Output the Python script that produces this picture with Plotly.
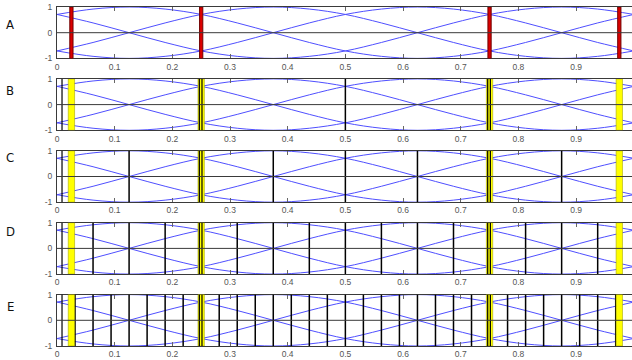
import plotly.graph_objects as go
from plotly.subplots import make_subplots

# ---- data -------------------------------------------------------------
panel_labels = ["A", "B", "C", "D", "E"]
label_y_px = [25, 90, 158, 231, 306]          # vertical centre of each panel letter

# four phase-shifted waves, sampled every 1/16
x_knots = [0, 0.0625, 0.125, 0.1875, 0.25, 0.3125, 0.375, 0.4375, 0.5,
           0.5625, 0.625, 0.6875, 0.75, 0.8125, 0.875, 0.9375, 1.0]
wave_1 = [-0.71, -0.38, 0, 0.38, 0.71, 0.92, 1, 0.92, 0.71,
          0.38, 0, -0.38, -0.71, -0.92, -1, -0.92, -0.71]
wave_2 = [0.71, 0.38, 0, -0.38, -0.71, -0.92, -1, -0.92, -0.71,
          -0.38, 0, 0.38, 0.71, 0.92, 1, 0.92, 0.71]
wave_3 = [0.71, 0.92, 1, 0.92, 0.71, 0.38, 0, -0.38, -0.71,
          -0.92, -1, -0.92, -0.71, -0.38, 0, 0.38, 0.71]
wave_4 = [-0.71, -0.92, -1, -0.92, -0.71, -0.38, 0, 0.38, 0.71,
          0.92, 1, 0.92, 0.71, 0.38, 0, -0.38, -0.71]
waves = [wave_1, wave_2, wave_3, wave_4]

# sample positions (red in A, yellow in B..E)
sample_pos = [0.025, 0.25, 0.75, 0.975]
# double markers inside the yellow bars at 1/4 and 3/4
pair_lines = [0.2468, 0.2514, 0.7468, 0.7514]
edge_line = 0.0087

# dyadic grid lines for each refinement level
grid_levels = {
    "B": [0.5],
    "C": [0.125, 0.375, 0.5, 0.625, 0.875],
    "D": [0.0625, 0.125, 0.1875, 0.3125, 0.375, 0.4375, 0.5, 0.5625,
          0.625, 0.6875, 0.8125, 0.875, 0.9375],
    "E": [0.03125, 0.0625, 0.09375, 0.125, 0.15625, 0.1875, 0.21875,
          0.28125, 0.3125, 0.34375, 0.375, 0.40625, 0.4375, 0.46875, 0.5,
          0.53125, 0.5625, 0.59375, 0.625, 0.65625, 0.6875, 0.71875,
          0.78125, 0.8125, 0.84375, 0.875, 0.90625, 0.9375, 0.96875],
}

x_tick_vals = [0, 0.1, 0.2, 0.3, 0.4, 0.5, 0.6, 0.7, 0.8, 0.9]
x_tick_text = ["0", "0.1", "0.2", "0.3", "0.4", "0.5", "0.6", "0.7", "0.8", "0.9"]
y_tick_vals = [-1, 0, 1]
y_tick_text = ["-1", "0", "1"]

# ---- layout geometry ----------------------------------------------------
W, H = 632, 360
M_L, M_R, M_T, M_B = 57, 0, 7, 14
plot_h = H - M_T - M_B
x_max = 0.997

BLUE = "#4f4fff"
FRAME = "#3a3a3a"
TICK_FONT = dict(family="Liberation Sans, Arial, sans-serif", size=8.5, color="#555555")

fig = make_subplots(rows=5, cols=1, vertical_spacing=20.5 / plot_h)

for r in range(1, 6):
    for w in waves:
        fig.add_trace(
            go.Scatter(x=x_knots, y=w, mode="lines",
                       line=dict(color=BLUE, width=1, shape="spline"),
                       hoverinfo="skip", showlegend=False),
            row=r, col=1)

shapes = []
for r, name in enumerate(panel_labels, start=1):
    xr = "x" if r == 1 else f"x{r}"
    yr = "y" if r == 1 else f"y{r}"

    def vline(x, color="black", width=1.5):
        shapes.append(dict(type="line", xref=xr, yref=yr, x0=x, x1=x, y0=-1, y1=1,
                           line=dict(color=color, width=width), layer="above"))

    def bar(x, half, fill, edge, ew):
        shapes.append(dict(type="rect", xref=xr, yref=yr, x0=x - half, x1=x + half,
                           y0=-1, y1=1, fillcolor=fill,
                           line=dict(color=edge, width=ew), layer="above"))

    if name == "A":
        for p in sample_pos:
            bar(p, 0.0028, "#dd0000", "#700000", 1)
    else:
        vline(edge_line, width=1.2)
        for g in grid_levels[name]:
            vline(g, width=1.5)
        for p in sample_pos:
            bar(p, 0.0055, "#ffff00", "#a8a800", 0.6)
        for p in pair_lines:
            vline(p, width=1.2)

    # horizontal zero line on top of everything
    shapes.append(dict(type="line", xref=xr, yref=yr, x0=0, x1=x_max, y0=0, y1=0,
                       line=dict(color=FRAME, width=1), layer="above"))

    fig.update_xaxes(range=[0, x_max], tickvals=x_tick_vals, ticktext=x_tick_text,
                     ticks="inside", ticklen=4, tickcolor="#666666", tickwidth=1,
                     showline=True, linecolor=FRAME, linewidth=1, mirror="ticks",
                     showgrid=False, zeroline=False, tickfont=TICK_FONT,
                     row=r, col=1)
    fig.update_yaxes(range=[-1, 1], tickvals=y_tick_vals, ticktext=y_tick_text,
                     ticks="", showline=True, linecolor=FRAME, linewidth=1,
                     mirror=False, showgrid=False, zeroline=False,
                     tickfont=TICK_FONT, ticklabelstandoff=2, row=r, col=1)

annotations = []
for name, py in zip(panel_labels, label_y_px):
    annotations.append(dict(
        text=name, xref="paper", yref="paper",
        x=(10 - M_L) / (W - M_L - M_R), y=(H - M_B - py) / plot_h,
        xanchor="center", yanchor="middle", showarrow=False,
        font=dict(family="Liberation Sans Narrow, DejaVu Sans Condensed, sans-serif",
                  size=13, color="#111111")))

fig.update_layout(
    width=W, height=H,
    margin=dict(l=M_L, r=M_R, t=M_T, b=M_B),
    paper_bgcolor="white", plot_bgcolor="white",
    shapes=shapes, annotations=annotations,
    showlegend=False,
)

fig.write_html("out.html")
